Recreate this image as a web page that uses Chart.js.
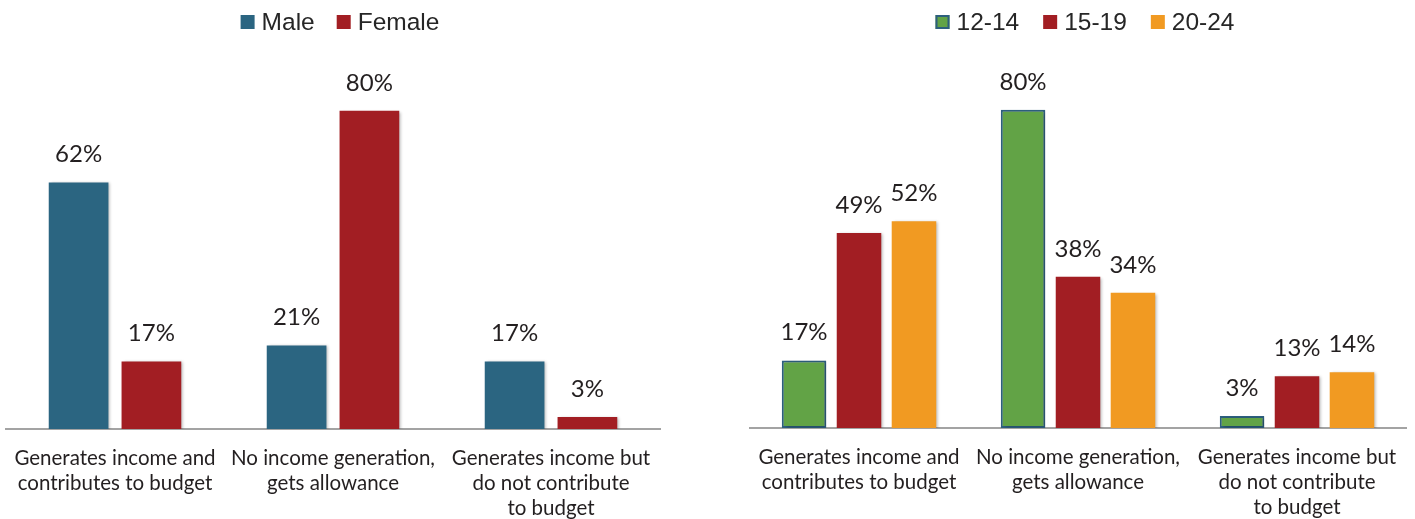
<!DOCTYPE html>
<html>
<head>
<meta charset="utf-8">
<script src="https://cdn.jsdelivr.net/npm/chart.js@4/dist/chart.umd.min.js"></script>
<style>
  html, body { margin: 0; padding: 0; background: #fff; overflow: hidden; }
  .panel { position: absolute; top: 0; height: 519px; }
  #left { left: 0; width: 675px; }
  #right { left: 744px; width: 671px; }
</style>
</head>
<body>
<div class="panel" id="left"><canvas id="genderChart"></canvas></div>
<div class="panel" id="right"><canvas id="ageChart"></canvas></div>
<script>
const categories = [
  ["Generates income and", "contributes to budget"],
  ["No income generation,", "gets allowance"],
  ["Generates income but", "do not contribute", "to budget"],
];

const male = [62, 21, 17];
const female = [17, 80, 3];

const age12to14 = [17, 80, 3];
const age15to19 = [49, 38, 13];
const age20to24 = [52, 34, 14];

const TEXT = "#231f20";
const BLUE = "#2b6581";
const RED = "#a21e23";
const GREEN = "#62a346";
const ORANGE = "#f19a22";
const EDGE = "#2d5f7e";

// percentage above each bar
const valueLabels = {
  id: "valueLabels",
  afterDatasetsDraw(chart) {
    const ctx = chart.ctx;
    ctx.save();
    ctx.font = "24px Lato";
    ctx.fillStyle = TEXT;
    ctx.textAlign = "center";
    ctx.textBaseline = "alphabetic";
    chart.data.datasets.forEach((ds, i) => {
      chart.getDatasetMeta(i).data.forEach((bar, j) => {
        ctx.fillText(ds.data[j] + "%", bar.x, bar.y - 20);
      });
    });
    ctx.restore();
  },
};

// soft shadow to the right of the bars
const barShadow = {
  id: "barShadow",
  beforeDatasetsDraw(chart) {
    const ctx = chart.ctx;
    ctx.save();
    ctx.shadowColor = "rgba(0,0,0,0.28)";
    ctx.shadowBlur = 3;
    ctx.shadowOffsetX = 2;
    ctx.shadowOffsetY = 1;
  },
  afterDatasetsDraw(chart) {
    chart.ctx.restore();
  },
};

// compact legend: small squares close to their text
const topLegend = {
  id: "topLegend",
  afterDraw(chart, args, opts) {
    const ctx = chart.ctx;
    const box = 14, gap = 7, spacing = opts.spacing;
    ctx.save();
    ctx.font = "24.5px 'Liberation Sans'";
    const items = chart.data.datasets.map((ds) => ({
      ds: ds,
      w: box + gap + ctx.measureText(ds.label).width,
    }));
    const total = items.reduce((s, it) => s + it.w, 0) + spacing * (items.length - 1);
    const area = chart.chartArea;
    let x = (area.left + area.right) / 2 + opts.shift - total / 2;
    const y = opts.y;
    items.forEach((it) => {
      ctx.fillStyle = it.ds.backgroundColor;
      ctx.fillRect(x, y - box / 2, box, box);
      if (it.ds.borderWidth) {
        ctx.strokeStyle = it.ds.borderColor;
        ctx.lineWidth = 2;
        ctx.strokeRect(x + 1, y - box / 2 + 1, box - 2, box - 2);
      }
      ctx.fillStyle = "#262626";
      ctx.textBaseline = "middle";
      ctx.textAlign = "left";
      ctx.fillText(it.ds.label, x + box + gap, y + 1);
      x += it.w + spacing;
    });
    ctx.restore();
  },
};

function makeChart(el, datasets, catPct, barPct, pad, legendSpacing) {
  return new Chart(document.getElementById(el), {
    type: "bar",
    data: { labels: categories, datasets: datasets },
    plugins: [barShadow, valueLabels, topLegend],
    options: {
      responsive: true,
      maintainAspectRatio: false,
      animation: false,
      layout: { padding: pad },
      datasets: { bar: { categoryPercentage: catPct, barPercentage: barPct } },
      plugins: {
        legend: { display: false },
        tooltip: { enabled: false },
        topLegend: { y: 22, shift: 7, spacing: legendSpacing },
      },
      scales: {
        x: {
          grid: { display: false },
          border: { display: true, color: "#a3a3a3", width: 2 },
          ticks: {
            color: TEXT,
            font: { family: "Lato", size: 20.5, lineHeight: "25px" },
            padding: 9,
            maxRotation: 0,
            autoSkip: false,
          },
        },
        y: { display: false, min: 0, max: 90 },
      },
    },
  });
}

makeChart("genderChart", [
  { label: "Male", data: male, backgroundColor: BLUE },
  { label: "Female", data: female, backgroundColor: RED },
], 0.668, 0.82, { top: 71, left: 6, right: 15, bottom: -11 }, 22);

makeChart("ageChart", [
  { label: "12-14", data: age12to14, backgroundColor: GREEN, borderColor: EDGE, borderWidth: 2, borderSkipped: false },
  { label: "15-19", data: age15to19, backgroundColor: RED },
  { label: "20-24", data: age20to24, backgroundColor: ORANGE },
], 0.753, 0.81, { top: 70, left: 5.5, right: 8.5, bottom: -10 }, 24);
</script>
</body>
</html>
